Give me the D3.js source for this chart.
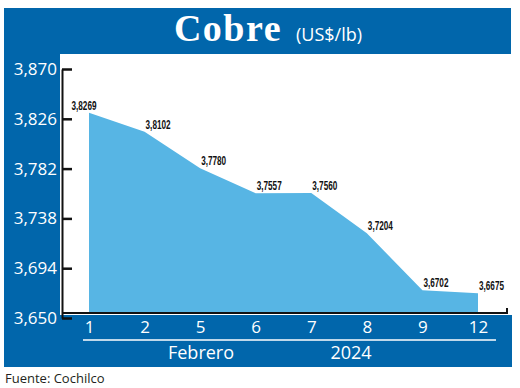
<!DOCTYPE html>
<html>
<head>
<meta charset="utf-8">
<script src="https://cdn.jsdelivr.net/npm/d3@7/dist/d3.min.js"></script>
<style>
  body { margin: 0; background: #fff; }
  .ylab text { fill: #fff; font-family: 'Open Sans', sans-serif; font-size: 17px; }
  .xlab text { fill: #fff; font-family: 'Open Sans', sans-serif; font-size: 17px; }
  .val { font-family: 'Liberation Sans', sans-serif; font-weight: bold; font-size: 12px; fill: #111; }
</style>
</head>
<body>
<div id="chart"></div>
<script>
// data
const days = ['1', '2', '5', '6', '7', '8', '9', '12'];
const prices = [3.8269, 3.8102, 3.7780, 3.7557, 3.7560, 3.7204, 3.6702, 3.6675];
const yTicks = [3.650, 3.694, 3.738, 3.782, 3.826, 3.870];
const monthLabel = 'Febrero';
const yearLabel = '2024';

const blue = '#0166ab';
const areaBlue = '#57b5e4';

const w = 520, h = 388;
const svg = d3.select('#chart').append('svg')
  .attr('width', w)
  .attr('height', h);

// background panels
svg.append('rect').attr('x', 4).attr('y', 8).attr('width', 507).attr('height', 46).attr('fill', blue);
svg.append('rect').attr('x', 4).attr('y', 8).attr('width', 56).attr('height', 359).attr('fill', blue);
svg.append('rect').attr('x', 4).attr('y', 315).attr('width', 508).attr('height', 52).attr('fill', blue);

// title
const title = svg.append('text')
  .attr('x', 268).attr('y', 41)
  .attr('text-anchor', 'middle')
  .attr('fill', '#fff');
title.append('tspan')
  .style('font-family', "'Liberation Serif', serif")
  .style('font-weight', 'bold')
  .style('font-size', '38px')
  .style('letter-spacing', '1.5px')
  .text('Cobre');
title.append('tspan')
  .attr('dx', 14)
  .style('font-family', "'Open Sans', sans-serif")
  .style('font-size', '18px')
  .text('(US$/lb)');

// scales
const x = d3.scalePoint().domain(days).range([89, 478]);
const y = d3.scaleLinear().domain([3.65, 3.87]).range([313, 64]);

const fmt = d3.formatLocale({ decimal: ',', thousands: '.', grouping: [3], currency: ['$', ''] });
const f3 = fmt.format('.3f');
const f4 = fmt.format('.4f');

// area
const area = d3.area()
  .x((d, i) => x(days[i]))
  .y0(y(3.65))
  .y1(d => y(d));

svg.append('path')
  .datum(prices)
  .attr('d', area)
  .attr('fill', areaBlue);

// baseline
svg.append('path')
  .attr('d', `M62,${y(3.65)}H507V${y(3.65) - 5}`)
  .attr('fill', 'none')
  .attr('stroke', '#111')
  .attr('stroke-width', 2);

// y axis
const yAxis = d3.axisLeft(y)
  .tickValues(yTicks)
  .tickFormat(f3)
  .tickSizeInner(-10)
  .tickSizeOuter(0)
  .tickPadding(5);

const gy = svg.append('g')
  .attr('class', 'ylab')
  .attr('transform', 'translate(62,5)')
  .call(yAxis);
gy.select('.domain').attr('stroke', '#111').attr('stroke-width', 2);
gy.selectAll('.tick line').attr('stroke', '#111').attr('stroke-width', 2.5);

// x axis
const xAxis = d3.axisBottom(x).tickSize(0).tickPadding(6);
const gx = svg.append('g')
  .attr('class', 'xlab')
  .attr('transform', 'translate(0,315)')
  .call(xAxis);
gx.select('.domain').remove();

// value labels (condensed look via textLength)
svg.selectAll('.val')
  .data(prices)
  .enter()
  .append('text')
  .attr('class', 'val')
  .attr('x', (d, i) => i === 0 ? x(days[i]) - 5 : x(days[i]) + 1)
  .attr('y', d => y(d) - 3)
  .attr('text-anchor', (d, i) => i === 0 ? 'middle' : 'start')
  .attr('textLength', 25)
  .attr('lengthAdjust', 'spacingAndGlyphs')
  .text(d => f4(d));

// month / year
svg.append('line')
  .attr('x1', 83).attr('x2', 496)
  .attr('y1', 340).attr('y2', 340)
  .attr('stroke', '#fff').attr('stroke-width', 1.5);

svg.append('text')
  .attr('x', 201).attr('y', 359)
  .attr('text-anchor', 'middle')
  .attr('fill', '#fff')
  .style('font-family', "'Open Sans', sans-serif")
  .style('font-size', '18px')
  .text(monthLabel);

svg.append('text')
  .attr('x', 351).attr('y', 359)
  .attr('text-anchor', 'middle')
  .attr('fill', '#fff')
  .style('font-family', "'Open Sans', sans-serif")
  .style('font-size', '18px')
  .text(yearLabel);

// source
svg.append('text')
  .attr('x', 5).attr('y', 383)
  .attr('fill', '#231f20')
  .style('font-family', "'Open Sans', sans-serif")
  .style('font-size', '13px')
  .text('Fuente: Cochilco');
</script>
</body>
</html>
